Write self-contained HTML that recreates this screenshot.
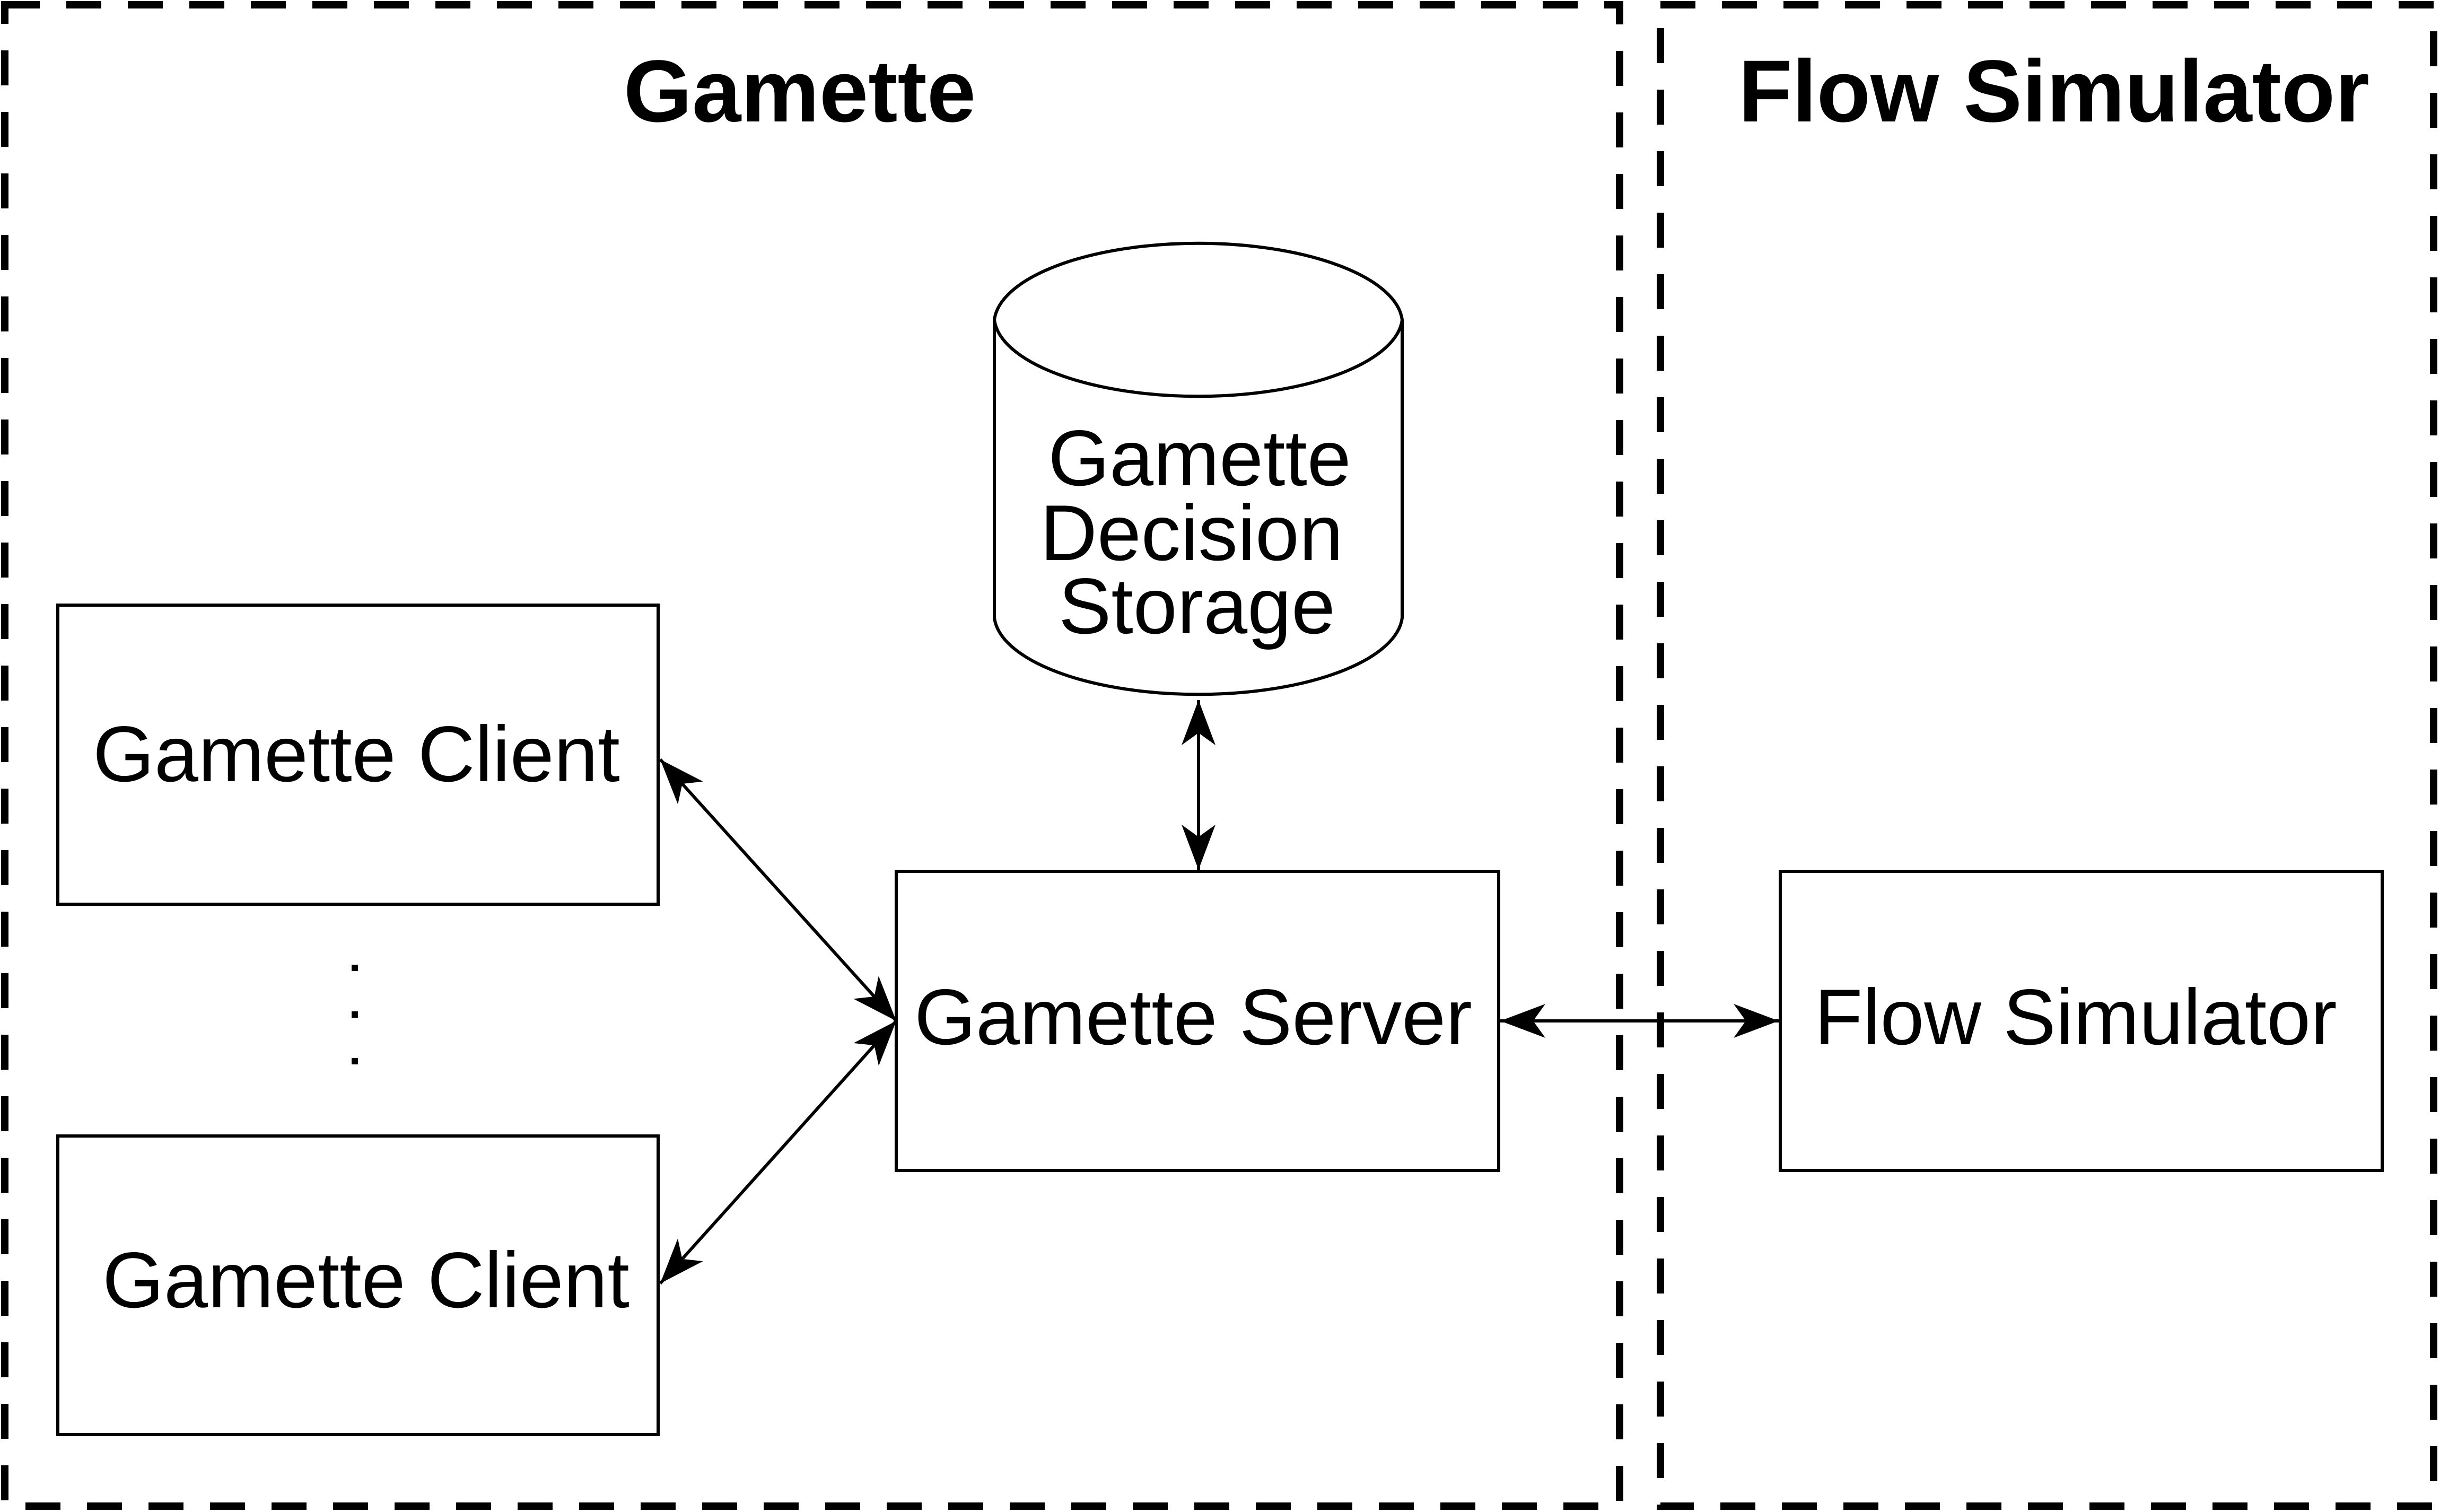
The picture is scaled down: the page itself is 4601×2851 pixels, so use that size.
<!DOCTYPE html>
<html><head><meta charset="utf-8"><style>
html,body{margin:0;padding:0;background:#fff}
svg{display:block}
</style></head><body>
<svg width="4601" height="2851" viewBox="0 0 4601 2851" xmlns="http://www.w3.org/2000/svg">
<defs>
<marker id="a" viewBox="-90 -40 100 80" refX="0" refY="0" markerWidth="100" markerHeight="80" markerUnits="userSpaceOnUse" orient="auto-start-reverse">
<path d="M0 0 L-85 -32 L-62 0 L-85 32 Z" fill="#000"/>
</marker>
</defs>
<g fill="none" stroke="#000" stroke-width="14" stroke-dasharray="66 50">
<rect x="9" y="9" width="3045" height="2831"/>
<rect x="3131" y="9" width="1458" height="2831"/>
</g>
<g fill="#fff" stroke="#000" stroke-width="6">
<rect x="109" y="1141" width="1132" height="564"/>
<rect x="109" y="2142" width="1132" height="563"/>
<rect x="1690" y="1643" width="1136" height="564"/>
<rect x="3357" y="1643" width="1135" height="564"/>
<path d="M1875 603 L1875 1165 A385 152 0 0 0 2644 1165 L2644 603 A385 152 0 0 0 1875 603 Z"/>
<path d="M1875 603 A385 152 0 0 0 2644 603" fill="none"/>
</g>
<g stroke="#000" stroke-width="6" fill="none">
<line x1="2260" y1="1320" x2="2260" y2="1640" marker-start="url(#a)" marker-end="url(#a)"/>
<line x1="2829" y1="1925" x2="3354" y2="1925" marker-start="url(#a)" marker-end="url(#a)"/>
<line x1="1245" y1="1432" x2="1690" y2="1925" marker-start="url(#a)" marker-end="url(#a)"/>
<line x1="1245" y1="2420" x2="1690" y2="1925" marker-start="url(#a)" marker-end="url(#a)"/>
</g>
<g fill="#000">
<rect x="663" y="1819" width="12" height="12"/>
<rect x="663" y="1907" width="12" height="12"/>
<rect x="663" y="1995" width="12" height="12"/>
</g>
<g font-family="'Liberation Sans', Arial, sans-serif" text-anchor="middle" fill="#000">
<text x="1508" y="229" font-size="166" font-weight="bold">Gamette</text>
<text x="3873" y="229" font-size="166" font-weight="bold">Flow Simulator</text>
<g font-size="149">
<text x="672" y="1473">Gamette Client</text>
<text x="690" y="2465">Gamette Client</text>
<text x="2250" y="1969">Gamette Server</text>
<text x="3914" y="1969">Flow Simulator</text>
<text x="2262" y="915">Gamette</text>
<text x="2247" y="1056">Decision</text>
<text x="2257" y="1194">Storage</text>
</g>
</g>
</svg>
</body></html>
